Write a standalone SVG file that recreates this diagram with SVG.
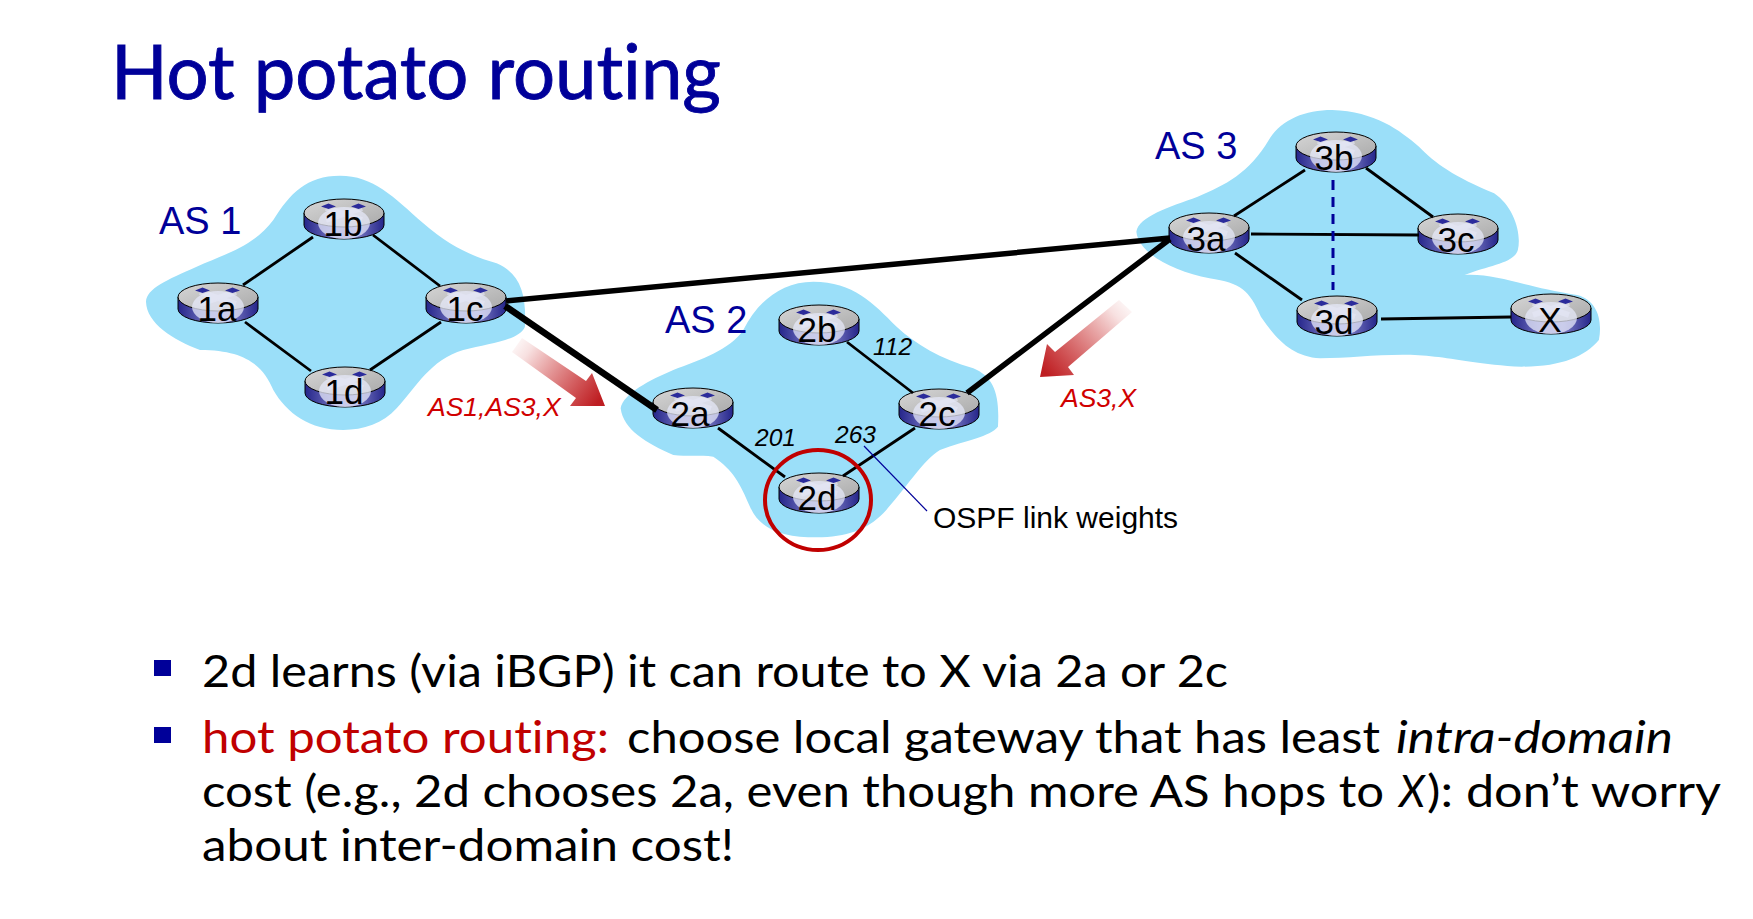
<svg xmlns="http://www.w3.org/2000/svg" width="1753" height="919" viewBox="0 0 1753 919">
<style>
.blob{fill:#9BDFF9}
.as{font:38px "Liberation Sans",Arial,sans-serif;fill:#000099}
.rl{font:35px "Liberation Sans",Arial,sans-serif;fill:#000;text-anchor:middle}
.w{font:italic 24.5px "Liberation Sans",Arial,sans-serif;fill:#000}
.path{font:italic 26.5px "Liberation Sans",Arial,sans-serif;fill:#D00000}
.ospf{font:30px "Liberation Sans",Arial,sans-serif;fill:#000}
.title{font:76px Lato,"Open Sans",sans-serif;fill:#000099;stroke:#000099;stroke-width:.9;font-variant-ligatures:none}
.b{font:44px Lato,"Open Sans",sans-serif;fill:#000;font-variant-ligatures:none}
.i{font-style:italic}
.red{fill:#C00000}
.thin{stroke:#000;stroke-width:2.8;fill:none}
.thick{stroke:#000;stroke-width:5.5;fill:none}
.bullet{fill:#000099}
</style>
<defs>
<linearGradient id="body" x1="0" x2="1" y1="0" y2="0">
<stop offset="0" stop-color="#25258a"/><stop offset="0.35" stop-color="#6f70bd"/><stop offset="0.65" stop-color="#7b7cc4"/><stop offset="1" stop-color="#25258a"/>
</linearGradient>
<linearGradient id="top" x1="0" x2="1" y1="0" y2="1">
<stop offset="0" stop-color="#d6d6d6"/><stop offset="1" stop-color="#a9a9a9"/>
</linearGradient>
<linearGradient id="a1" gradientUnits="userSpaceOnUse" x1="512" y1="338" x2="598" y2="402">
<stop offset="0" stop-color="#C00000" stop-opacity="0"/><stop offset="0.2" stop-color="#C00000" stop-opacity=".12"/><stop offset="1" stop-color="#BE1E22"/>
</linearGradient>
<linearGradient id="a2" gradientUnits="userSpaceOnUse" x1="1130" y1="298" x2="1045" y2="372">
<stop offset="0" stop-color="#C00000" stop-opacity="0"/><stop offset="0.2" stop-color="#C00000" stop-opacity=".12"/><stop offset="1" stop-color="#BE1E22"/>
</linearGradient>
<g id="router">
<path d="M-40-6V6A40 14 0 0 0 40 6V-6Z" fill="url(#body)" stroke="#000" stroke-width="1"/>
<ellipse cx="0" cy="-6" rx="40" ry="14" fill="url(#top)" stroke="#000" stroke-width="1"/>
<ellipse cx="0" cy="4" rx="26" ry="16" fill="#E6E8F8" opacity="0.75"/>
<path d="M-18-11L18 1M18-11L-18 1" stroke="#E6E8F8" stroke-width="6" opacity=".6"/>
<path d="M-23-12.5L-15.500-15.500L-8-12.500L-15.500-10ZM7-12.500L14.500-15.500L22-12.500L14.500-10Z" fill="#2B2B9B"/>
</g>
</defs>
<rect width="1753" height="919" fill="#fff"/>
<text class="title" x="111" y="99" textLength="610" lengthAdjust="spacingAndGlyphs">Hot potato routing</text>
<g id="clouds">
<path class="blob" transform="translate(130 160) scale(.3333)" d="M48 425C50 385 110 360 200 320C290 280 370 260 430 180C480 100 530 47 630 47C730 47 790 110 880 190C960 260 1030 290 1100 310C1170 340 1190 400 1185 500C1170 540 1080 550 1000 570C900 600 860 680 800 745C760 790 700 810 640 810C540 810 470 760 430 690C400 620 350 570 210 570C130 540 50 490 48 425Z"/>
<path class="blob" transform="translate(500 280) scale(.3333)" d="M362 385C370 340 450 300 520 270C600 240 690 210 730 150C770 70 840 5 940 5C1060 5 1120 70 1190 140C1250 195 1320 235 1420 265C1480 290 1500 340 1494 440C1470 470 1400 480 1320 510C1270 540 1230 610 1150 700C1100 750 1040 772 950 772C850 772 780 750 750 680C720 610 700 570 640 530C600 525 560 530 520 525C440 490 370 450 362 385Z"/>
<path class="blob" transform="translate(1000 100) scale(.3953 .3333)" d="M345 395C350 350 430 320 500 290C570 255 630 220 680 120C710 60 770 30 840 30C950 35 1010 90 1060 140C1100 190 1150 230 1250 280C1300 320 1320 400 1310 450C1300 490 1240 495 1175 525C1260 520 1320 560 1460 585C1510 600 1525 660 1515 720C1480 770 1420 800 1320 800C1220 795 1150 775 1100 770C1000 755 900 775 810 775C740 770 700 720 660 650C630 570 610 550 530 535C440 515 350 460 345 395Z"/>
</g>
<g id="route-arrows">
<polygon fill="url(#a1)" points="522,338 586,381 592,373 605,406 570,406 576,398 512,352"/>
<polygon fill="url(#a2)" points="1119,300 1055,352 1047,344 1040,377 1074,375 1068,367 1132,312"/>
</g>
<g id="node-1a"><use href="#router" x="218" y="303"/><text class="rl" x="217" y="321">1a</text></g>
<g id="node-1b"><use href="#router" x="344" y="219"/><text class="rl" x="343" y="236">1b</text></g>
<g id="node-1c"><use href="#router" x="466" y="303"/><text class="rl" x="465" y="321">1c</text></g>
<g id="node-1d"><use href="#router" x="345" y="387"/><text class="rl" x="344" y="404">1d</text></g>
<g id="node-2a"><use href="#router" x="693" y="408"/><text class="rl" x="690" y="426">2a</text></g>
<g id="node-2b"><use href="#router" x="819" y="325"/><text class="rl" x="817" y="342">2b</text></g>
<g id="node-2c"><use href="#router" x="939" y="409"/><text class="rl" x="937" y="426">2c</text></g>
<g id="node-2d"><use href="#router" x="819" y="493"/><text class="rl" x="817" y="510">2d</text></g>
<g id="node-3a"><use href="#router" x="1209" y="233"/><text class="rl" x="1206" y="251">3a</text></g>
<g id="node-3b"><use href="#router" x="1336" y="152"/><text class="rl" x="1334" y="170">3b</text></g>
<g id="node-3c"><use href="#router" x="1458" y="234"/><text class="rl" x="1456" y="252">3c</text></g>
<g id="node-3d"><use href="#router" x="1337" y="316"/><text class="rl" x="1334" y="334">3d</text></g>
<g id="node-X"><use href="#router" x="1551" y="314"/><text class="rl" x="1550" y="332">X</text></g>
<g id="connectors">
<path class="thin" d="M243 285L313 237M373 235L440 286M245 322L311 371M441 322L370 370M718 428L785 477M847 342L913 393M915 428L843 476M1234 216L1305 170M1366 168L1433 217M1251 234L1419 235M1235 253L1302 300M1381 319L1511 317"/>
<path class="thick" d="M506 301L1170 238M967 393L1170 239"/>
<path class="thick" style="stroke-width:6.500" d="M505 306L657 410"/>
<path d="M1333 180V290" stroke="#000099" stroke-width="3" stroke-dasharray="10 7" fill="none"/>
<path d="M864 446L927 511" stroke="#000099" stroke-width="1.200" fill="none"/>
</g>
<ellipse id="highlight-2d" cx="818" cy="500" rx="53" ry="50" fill="none" stroke="#C00000" stroke-width="4"/>
<text class="as" x="159" y="234">AS 1</text>
<text class="as" x="665" y="333">AS 2</text>
<text class="as" x="1155" y="159">AS 3</text>
<text class="w" x="873" y="355">112</text>
<text class="w" x="755" y="446">201</text>
<text class="w" x="835" y="443">263</text>
<text class="path" x="428" y="416">AS1,AS3,X</text>
<text class="path" x="1061" y="407">AS3,X</text>
<text class="ospf" x="933" y="528">OSPF link weights</text>
<rect class="bullet" x="154" y="660" width="17" height="16"/>
<rect class="bullet" x="154" y="727" width="17" height="16"/>
<text class="b" x="202" y="687" textLength="1026" lengthAdjust="spacingAndGlyphs">2d learns (via iBGP) it can route to X via 2a or 2c</text>
<text class="b" y="753"><tspan class="red" x="202" textLength="407" lengthAdjust="spacingAndGlyphs">hot potato routing:</tspan><tspan x="627" textLength="753" lengthAdjust="spacingAndGlyphs">choose local gateway that has least</tspan><tspan class="i" x="1396" textLength="277" lengthAdjust="spacingAndGlyphs">intra-domain</tspan></text>
<text class="b" y="807"><tspan x="202" textLength="1182" lengthAdjust="spacingAndGlyphs">cost (e.g., 2d chooses 2a, even though more AS hops to</tspan><tspan class="i" x="1399" textLength="26" lengthAdjust="spacingAndGlyphs">X</tspan><tspan x="1427" textLength="294" lengthAdjust="spacingAndGlyphs">): don’t worry</tspan></text>
<text class="b" x="202" y="861" textLength="532" lengthAdjust="spacingAndGlyphs">about inter-domain cost!</text>
</svg>
